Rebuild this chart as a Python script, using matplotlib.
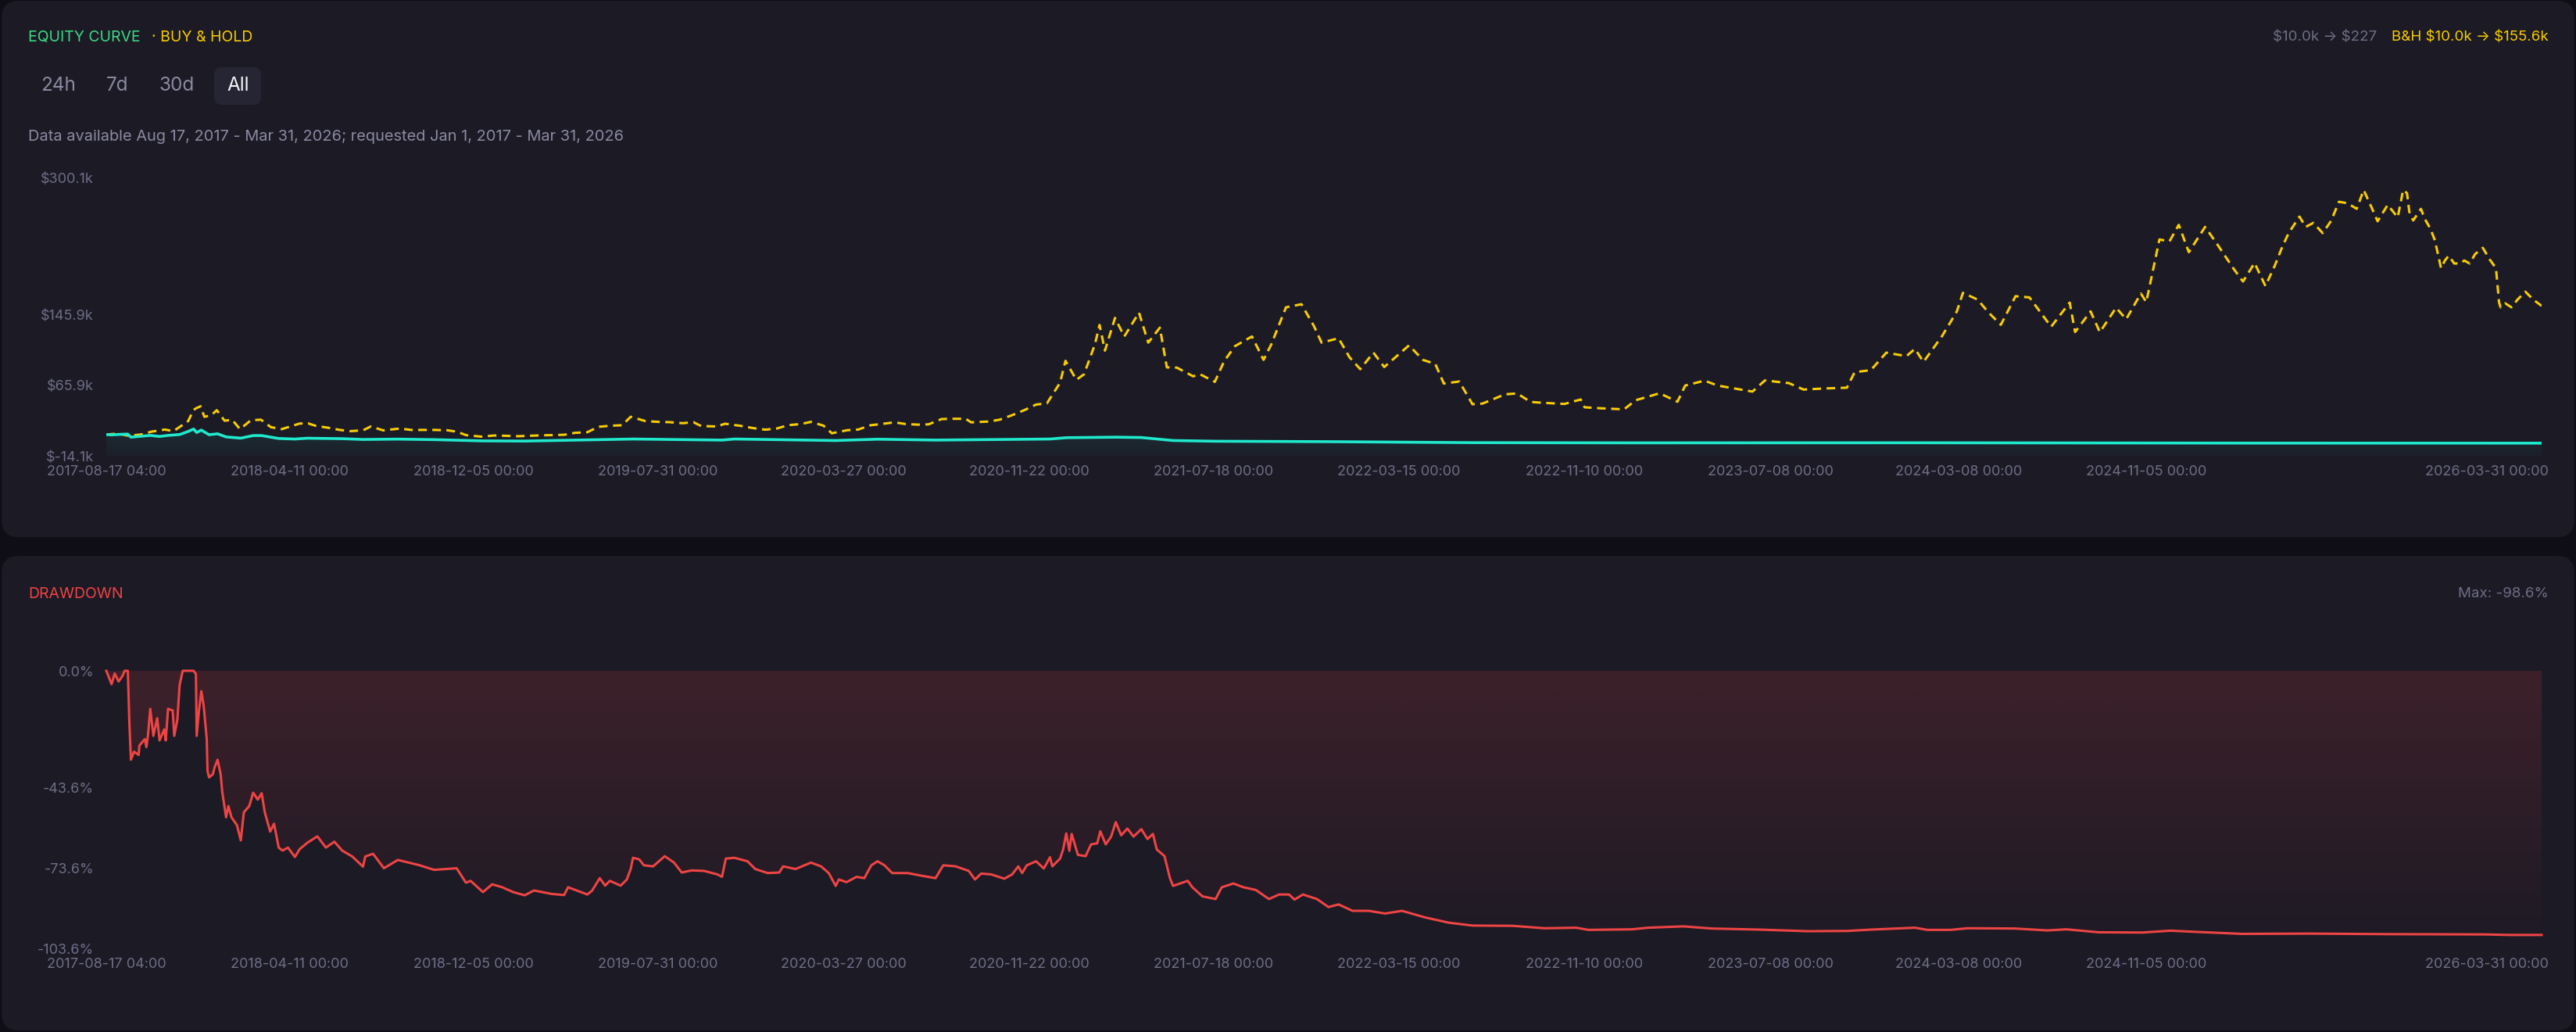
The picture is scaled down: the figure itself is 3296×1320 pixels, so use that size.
import matplotlib

matplotlib.use("Agg")
import matplotlib.colors as mcolors
import matplotlib.dates as mdates
import matplotlib.pyplot as plt
import numpy as np
import pandas as pd
from matplotlib.patches import FancyBboxPatch
from matplotlib.transforms import ScaledTranslation

W, H, DPI = 3296, 1320, 100

# ---- data --------------------------------------------------------------
# buy & hold equity, $k
bh_dates = [
    "2017-08-17 04:00", "2017-09-01", "2017-09-15", "2017-10-01", "2017-10-15", "2017-11-01",
    "2017-11-12", "2017-11-20", "2017-12-01", "2017-12-08", "2017-12-12", "2017-12-17",
    "2017-12-22", "2017-12-31", "2018-01-07", "2018-01-17", "2018-01-27", "2018-02-06",
    "2018-02-20", "2018-03-05", "2018-03-18", "2018-04-01", "2018-04-24", "2018-05-05",
    "2018-05-15", "2018-06-01", "2018-06-15", "2018-06-28", "2018-07-15", "2018-07-25",
    "2018-08-10", "2018-09-01", "2018-09-15", "2018-10-15", "2018-11-01", "2018-11-14",
    "2018-11-25", "2018-12-15", "2019-01-01", "2019-02-01", "2019-03-01", "2019-04-01",
    "2019-04-15", "2019-05-01", "2019-05-15", "2019-06-01", "2019-06-15", "2019-06-26",
    "2019-07-15", "2019-08-01", "2019-08-15", "2019-09-01", "2019-09-15", "2019-09-25",
    "2019-10-15", "2019-10-26", "2019-11-15", "2019-12-01", "2019-12-17", "2020-01-01",
    "2020-01-15", "2020-02-01", "2020-02-14", "2020-03-01", "2020-03-12", "2020-04-01",
    "2020-04-15", "2020-05-01", "2020-05-15", "2020-06-01", "2020-06-15", "2020-07-01",
    "2020-07-15", "2020-08-01", "2020-08-15", "2020-09-01", "2020-09-08", "2020-10-01",
    "2020-10-15", "2020-11-01", "2020-11-15", "2020-12-01", "2020-12-15", "2021-01-01",
    "2021-01-08", "2021-01-22", "2021-02-01", "2021-02-15", "2021-02-21", "2021-02-28",
    "2021-03-13", "2021-03-25", "2021-04-13", "2021-04-25", "2021-05-10", "2021-05-19",
    "2021-06-01", "2021-06-22", "2021-07-01", "2021-07-20", "2021-08-01", "2021-08-15",
    "2021-09-06", "2021-09-21", "2021-10-01", "2021-10-20", "2021-11-09", "2021-11-25",
    "2021-12-05", "2021-12-27", "2022-01-10", "2022-01-24", "2022-02-10", "2022-02-24",
    "2022-03-28", "2022-04-15", "2022-05-01", "2022-05-12", "2022-06-01", "2022-06-18",
    "2022-07-01", "2022-07-30", "2022-08-15", "2022-09-01", "2022-09-15", "2022-10-15",
    "2022-11-05", "2022-11-10", "2022-12-01", "2022-12-31", "2023-01-15", "2023-02-15",
    "2023-03-10", "2023-03-20", "2023-04-14", "2023-05-01", "2023-06-15", "2023-07-01",
    "2023-08-01", "2023-08-20", "2023-09-15", "2023-10-15", "2023-10-25", "2023-11-15",
    "2023-12-05", "2023-12-31", "2024-01-11", "2024-01-22", "2024-02-15", "2024-03-05",
    "2024-03-13", "2024-04-01", "2024-04-15", "2024-05-01", "2024-05-20", "2024-06-07",
    "2024-07-05", "2024-07-29", "2024-08-05", "2024-08-25", "2024-09-06", "2024-09-27",
    "2024-10-10", "2024-10-29", "2024-11-05", "2024-11-22", "2024-12-05", "2024-12-17",
    "2024-12-30", "2025-01-20", "2025-02-03", "2025-02-26", "2025-03-10", "2025-03-25",
    "2025-04-08", "2025-04-20", "2025-04-30", "2025-05-08", "2025-05-22", "2025-05-30",
    "2025-06-09", "2025-06-21", "2025-07-02", "2025-07-12", "2025-07-23", "2025-08-04",
    "2025-08-13", "2025-08-24", "2025-08-31", "2025-09-13", "2025-09-26", "2025-10-03",
    "2025-10-08", "2025-10-11", "2025-10-16", "2025-10-26", "2025-10-31", "2025-11-07",
    "2025-11-13", "2025-11-21", "2025-11-26", "2025-12-01", "2025-12-08", "2025-12-16",
    "2025-12-21", "2025-12-28", "2026-01-04", "2026-01-14", "2026-01-23", "2026-01-31",
    "2026-02-04", "2026-02-06", "2026-02-12", "2026-02-20", "2026-02-28", "2026-03-10",
    "2026-03-20", "2026-03-31",
]
bh_values = [
    10.0, 11.0, 8.6, 10.0, 13.3, 15.6,
    13.8, 18.6, 25.2, 38.0, 40.0, 42.0,
    30.0, 32.0, 37.5, 25.7, 26.5, 16.1,
    26.1, 26.8, 18.3, 16.1, 22.4, 22.6,
    19.8, 17.5, 15.2, 13.8, 14.7, 19.1,
    14.7, 16.8, 15.2, 15.2, 14.8, 13.1,
    9.3, 7.6, 8.9, 8.1, 9.0, 9.7,
    11.9, 12.6, 18.7, 20.0, 20.5, 30.1,
    25.2, 24.3, 24.0, 22.8, 24.0, 19.6,
    19.1, 22.2, 19.8, 17.3, 15.5, 16.8,
    20.5, 21.9, 24.3, 20.1, 11.4, 14.9,
    15.6, 20.5, 21.9, 23.8, 21.9, 21.2,
    21.5, 27.5, 27.8, 27.8, 23.8, 24.7,
    26.8, 32.2, 37.3, 43.9, 45.3, 68.6,
    93.4, 71.9, 78.2, 112.0, 134.0, 105.0,
    142.0, 121.0, 148.0, 114.0, 131.0, 86.0,
    85.7, 75.9, 78.2, 69.6, 92.9, 110.0,
    121.0, 94.5, 112.0, 154.0, 157.5, 133.0,
    114.0, 119.0, 97.6, 84.0, 102.7, 86.4,
    110.9, 94.5, 89.9, 67.7, 70.0, 44.3,
    45.0, 55.5, 56.5, 46.9, 46.0, 44.6,
    49.7, 40.8, 39.7, 38.5, 48.8, 56.7,
    47.1, 65.4, 71.0, 65.4, 58.6, 71.2,
    68.2, 60.9, 62.1, 63.0, 80.5, 82.9,
    102.7, 98.7, 107.0, 92.2, 121.4, 149.0,
    170.4, 162.7, 148.2, 134.2, 166.6, 165.2,
    132.0, 159.4, 126.0, 149.4, 125.8, 153.6,
    140.5, 169.7, 159.9, 230.8, 228.7, 247.4,
    216.4, 245.0, 227.6, 197.5, 183.2, 204.2,
    178.1, 200.9, 223.0, 238.0, 256.7, 245.0,
    249.6, 238.0, 252.0, 273.5, 271.8, 265.5,
    286.8, 265.5, 251.4, 270.0, 255.8, 286.8,
    283.3, 262.0, 252.3, 265.5, 254.0, 243.4,
    230.0, 198.3, 207.0, 212.5, 203.6, 203.6,
    207.0, 203.6, 214.2, 221.3, 208.0, 198.3,
    159.4, 154.0, 158.5, 154.0, 162.9, 171.7,
    162.9, 155.6,
]

# strategy equity, $k
eq_dates = [
    "2017-08-17 04:00", "2017-08-24", "2017-09-02", "2017-09-14", "2017-09-18", "2017-10-13",
    "2017-10-25", "2017-11-05", "2017-11-20", "2017-11-24", "2017-12-01", "2017-12-08",
    "2017-12-12", "2017-12-18", "2017-12-28", "2018-01-08", "2018-01-19", "2018-02-07",
    "2018-02-23", "2018-03-06", "2018-03-28", "2018-04-18", "2018-05-04", "2018-06-18",
    "2018-07-15", "2018-08-29", "2018-10-15", "2018-12-17", "2019-02-09", "2019-06-29",
    "2019-10-22", "2019-11-07", "2020-03-17", "2020-05-10", "2020-07-24", "2020-12-19",
    "2021-01-09", "2021-03-14", "2021-04-16", "2021-05-27", "2021-07-21", "2021-12-14",
    "2022-06-18", "2023-01-10", "2024-01-11", "2025-03-09", "2026-03-31",
]
eq_values = [
    10.0, 9.6, 10.1, 10.5, 7.0, 9.0,
    7.8, 9.0, 10.0, 11.2, 13.5, 16.2,
    12.3, 15.0, 9.8, 10.8, 7.3, 5.9,
    8.8, 8.8, 5.5, 4.9, 5.8, 5.3,
    4.4, 4.8, 4.2, 2.8, 2.6, 4.9,
    3.7, 4.9, 3.2, 4.7, 3.7, 4.9,
    6.4, 7.0, 6.6, 3.2, 2.4, 1.9,
    0.8, 0.57, 0.66, 0.29, 0.227,
]

# strategy drawdown, %
dd_dates = [
    "2017-08-17 04:00", "2017-08-24", "2017-08-28", "2017-09-02", "2017-09-07", "2017-09-10",
    "2017-09-14", "2017-09-16", "2017-09-18", "2017-09-22", "2017-09-28", "2017-09-29",
    "2017-10-06", "2017-10-08", "2017-10-10", "2017-10-13", "2017-10-17", "2017-10-22",
    "2017-10-25", "2017-10-31", "2017-11-02", "2017-11-05", "2017-11-11", "2017-11-13",
    "2017-11-17", "2017-11-20", "2017-11-24", "2017-12-08", "2017-12-11", "2017-12-12",
    "2017-12-15", "2017-12-18", "2017-12-21", "2017-12-25", "2017-12-26", "2017-12-28",
    "2018-01-02", "2018-01-04", "2018-01-08", "2018-01-12", "2018-01-14", "2018-01-19",
    "2018-01-22", "2018-01-26", "2018-02-02", "2018-02-07", "2018-02-11", "2018-02-18",
    "2018-02-23", "2018-03-01", "2018-03-06", "2018-03-10", "2018-03-17", "2018-03-22",
    "2018-03-28", "2018-04-02", "2018-04-09", "2018-04-18", "2018-04-24", "2018-05-04",
    "2018-05-17", "2018-05-28", "2018-06-08", "2018-06-18", "2018-07-01", "2018-07-15",
    "2018-07-18", "2018-07-28", "2018-08-11", "2018-08-29", "2018-09-25", "2018-10-15",
    "2018-11-13", "2018-11-25", "2018-12-01", "2018-12-17", "2018-12-29", "2019-01-11",
    "2019-01-25", "2019-02-09", "2019-02-21", "2019-03-16", "2019-04-01", "2019-04-06",
    "2019-04-18", "2019-05-01", "2019-05-07", "2019-05-17", "2019-05-24", "2019-05-30",
    "2019-06-13", "2019-06-21", "2019-06-26", "2019-06-29", "2019-07-07", "2019-07-13",
    "2019-07-25", "2019-08-09", "2019-08-21", "2019-08-31", "2019-09-13", "2019-09-29",
    "2019-10-16", "2019-10-22", "2019-10-27", "2019-11-07", "2019-11-24", "2019-12-04",
    "2019-12-20", "2020-01-04", "2020-01-09", "2020-01-25", "2020-02-14", "2020-02-27",
    "2020-03-08", "2020-03-17", "2020-03-21", "2020-03-31", "2020-04-13", "2020-04-23",
    "2020-05-02", "2020-05-10", "2020-05-19", "2020-05-29", "2020-06-18", "2020-07-08",
    "2020-07-24", "2020-08-03", "2020-08-19", "2020-09-05", "2020-09-13", "2020-09-21",
    "2020-10-04", "2020-10-21", "2020-10-31", "2020-11-08", "2020-11-13", "2020-11-19",
    "2020-12-01", "2020-12-11", "2020-12-19", "2020-12-22", "2021-01-01", "2021-01-05",
    "2021-01-09", "2021-01-13", "2021-01-16", "2021-01-24", "2021-02-03", "2021-02-10",
    "2021-02-18", "2021-02-22", "2021-03-01", "2021-03-08", "2021-03-14", "2021-03-21",
    "2021-03-29", "2021-04-06", "2021-04-16", "2021-04-24", "2021-05-01", "2021-05-06",
    "2021-05-16", "2021-05-23", "2021-05-27", "2021-06-15", "2021-06-21", "2021-07-04",
    "2021-07-21", "2021-07-29", "2021-08-13", "2021-08-26", "2021-09-11", "2021-09-28",
    "2021-10-11", "2021-10-24", "2021-10-31", "2021-11-11", "2021-11-29", "2021-12-14",
    "2021-12-27", "2022-01-14", "2022-02-04", "2022-02-25", "2022-03-19", "2022-04-17",
    "2022-05-18", "2022-06-18", "2022-08-09", "2022-09-19", "2022-10-30", "2022-11-15",
    "2023-01-10", "2023-01-31", "2023-03-18", "2023-04-23", "2023-06-24", "2023-08-25",
    "2023-10-16", "2023-11-15", "2024-01-11", "2024-01-27", "2024-02-26", "2024-03-19",
    "2024-05-19", "2024-06-30", "2024-07-25", "2024-09-04", "2024-10-31", "2024-12-06",
    "2025-01-12", "2025-03-09", "2025-06-05", "2025-09-16", "2026-01-17", "2026-02-17",
    "2026-03-31",
]
dd_values = [
    0.0, -5.0, -1.0, -4.0, -2.0, 0.0,
    0.0, -19.6, -33.2, -30.2, -31.4, -27.9,
    -25.5, -28.5, -24.3, -14.2, -24.3, -17.7,
    -26.0, -21.9, -26.0, -14.2, -14.8, -24.3,
    -18.3, -5.2, 0.0, 0.0, -1.2, -24.3,
    -14.8, -7.6, -13.0, -25.5, -37.4, -39.8,
    -38.6, -36.2, -33.2, -38.6, -45.1, -54.7,
    -50.5, -54.7, -57.6, -63.3, -52.8, -50.5,
    -45.5, -48.1, -45.7, -52.8, -60.0, -57.1,
    -66.0, -67.1, -66.0, -69.5, -66.6, -64.2,
    -61.8, -66.0, -63.8, -67.1, -69.3, -73.1,
    -69.3, -68.3, -73.7, -70.6, -72.5, -74.3,
    -73.7, -79.1, -78.4, -82.6, -79.7, -80.8,
    -82.6, -83.8, -82.0, -83.3, -83.7, -80.8,
    -82.1, -83.5, -82.1, -77.4, -80.2, -78.4,
    -80.2, -77.9, -74.0, -69.8, -70.4, -72.6,
    -73.0, -69.2, -71.6, -75.3, -74.5, -74.7,
    -76.0, -76.9, -70.1, -69.8, -71.1, -74.0,
    -75.5, -75.3, -73.0, -74.0, -71.6, -73.0,
    -75.5, -80.3, -77.9, -78.9, -76.9, -77.4,
    -72.6, -71.1, -72.6, -75.5, -75.5, -76.6,
    -77.4, -72.6, -73.0, -74.7, -77.9, -75.7,
    -76.0, -77.6, -76.0, -73.0, -75.5, -72.6,
    -71.1, -73.8, -69.6, -73.0, -70.1, -66.7,
    -60.7, -67.2, -60.9, -68.7, -69.2, -64.8,
    -64.4, -59.9, -64.8, -61.9, -56.5, -61.4,
    -58.9, -61.9, -59.1, -62.8, -60.9, -66.7,
    -69.2, -77.4, -80.3, -78.4, -80.8, -84.2,
    -85.2, -80.8, -79.4, -80.8, -81.8, -85.2,
    -83.5, -83.5, -85.4, -83.5, -85.2, -88.2,
    -87.2, -89.6, -89.6, -90.6, -89.6, -92.0,
    -94.0, -95.1, -95.2, -96.1, -95.9, -96.7,
    -96.5, -95.9, -95.4, -96.2, -96.6, -97.2,
    -97.1, -96.6, -95.9, -96.7, -96.7, -96.1,
    -96.2, -96.9, -96.5, -97.6, -97.7, -97.0,
    -97.5, -98.2, -98.1, -98.3, -98.4, -98.6,
    -98.6,
]

x_tick_dates = [
    "2017-08-17 04:00", "2018-04-11", "2018-12-05", "2019-07-31", "2020-03-27", "2020-11-22",
    "2021-07-18", "2022-03-15", "2022-11-10", "2023-07-08", "2024-03-08", "2024-11-05",
    "2026-03-31",
]
eq_yticks = [-14.1, 65.9, 145.9, 300.1]
dd_yticks = [0.0, -43.6, -73.6, -103.6]
range_buttons = ["24h", "7d", "30d", "All"]

title_equity = "EQUITY CURVE"
title_bh = "· BUY & HOLD"
title_dd = "DRAWDOWN"
note = "Data available Aug 17, 2017 - Mar 31, 2026; requested Jan 1, 2017 - Mar 31, 2026"
summary_strategy = "$10.0k → $227"
summary_bh = "B&H $10.0k → $155.6k"
summary_dd = "Max: -98.6%"

# ---- style -------------------------------------------------------------
BG = "#0f0e17"
CARD = "#1b1a25"
BTN = "#262533"
MUTED = "#6f6e86"
TEXT_DIM = "#8b8aa1"
GREEN = "#3ddc84"
YELLOW = "#f8cc00"
CYAN = "#1fe9cd"
RED = "#ef4444"
TICK_SIZE = 13

plt.rcParams["font.family"] = ["Inter", "DejaVu Sans"]


def to_dates(values):
    return pd.to_datetime(values, format="ISO8601")


fig = plt.figure(figsize=(W / DPI, H / DPI), dpi=DPI)
fig.patch.set_facecolor(BG)

# pixel-space canvas for cards and header text
bg = fig.add_axes([0, 0, 1, 1], zorder=0)
bg.set_xlim(0, W)
bg.set_ylim(H, 0)
bg.axis("off")

for top, bottom in [(1, 687), (711, 1318)]:
    bg.add_patch(FancyBboxPatch((2, top), W - 4, bottom - top,
                                boxstyle="round,pad=0,rounding_size=22",
                                facecolor=CARD, edgecolor="none"))


def label(x, y, s, color, size, ha="left"):
    bg.text(x, y, s, color=color, fontsize=size, va="center", ha=ha, parse_math=False)


label(36, 48, title_equity, GREEN, 14)
label(194, 48, title_bh, YELLOW, 14)
label(3041, 48, summary_strategy, MUTED, 13.5, ha="right")
label(3261, 48, summary_bh, YELLOW, 13.5, ha="right")

btn_x = [52, 136, 204, 290]
for name, x in zip(range_buttons, btn_x):
    active = name == "All"
    if active:
        bg.add_patch(FancyBboxPatch((x - 16, 86), 60, 48,
                                    boxstyle="round,pad=0,rounding_size=10",
                                    facecolor=BTN, edgecolor="none"))
    label(x, 110, name, "#f2f2f7" if active else TEXT_DIM, 17.5)

label(36, 175, note, TEXT_DIM, 14.4)
label(36, 760, title_dd, RED, 14)
label(3261, 760, summary_dd, MUTED, 13.5, ha="right")


def px_axes(left, top, right, bottom):
    return fig.add_axes([left / W, 1 - bottom / H, (right - left) / W, (bottom - top) / H],
                        zorder=1)


def gradient_fill(ax, x, y, base, color, a_top, a_bottom, y_low, y_high):
    poly = ax.fill_between(x, y, base, facecolor="none", edgecolor="none")
    rgba = np.zeros((256, 1, 4))
    rgba[..., :3] = mcolors.to_rgb(color)
    rgba[..., 3] = np.linspace(a_top, a_bottom, 256)[:, None]
    xn = mdates.date2num(x)
    im = ax.imshow(rgba, extent=[xn[0], xn[-1], y_low, y_high], aspect="auto",
                   origin="upper", zorder=1)
    im.set_clip_path(poly.get_paths()[0], transform=ax.transData)


def style_axes(ax):
    ax.set_facecolor("none")
    for s in ax.spines.values():
        s.set_visible(False)
    ax.tick_params(length=0, labelsize=TICK_SIZE, labelcolor=MUTED)
    ax.tick_params(axis="y", pad=11.5)
    ax.tick_params(axis="x", pad=8.5)
    ticks = to_dates(x_tick_dates)
    ax.set_xticks(ticks)
    ax.set_xticklabels([t.strftime("%Y-%m-%d %H:%M") for t in ticks])
    last = ax.get_xticklabels()[-1]
    last.set_ha("right")
    last.set_transform(last.get_transform() + ScaledTranslation(9 / DPI, 0, fig.dpi_scale_trans))
    ax.set_xlim(ticks[0], ticks[-1])


bh_x = to_dates(bh_dates)
eq_x = to_dates(eq_dates)
dd_x = to_dates(dd_dates)

# ---- equity panel ------------------------------------------------------
ax1 = px_axes(136, 228, 3252, 583)
gradient_fill(ax1, eq_x, eq_values, eq_yticks[0], CYAN, 0.10, 0.03, eq_yticks[0], 20)
ax1.plot(bh_x, bh_values, color=YELLOW, lw=2.2, ls=(0, (3.6, 2.3)), zorder=3)
ax1.plot(eq_x, eq_values, color=CYAN, lw=2.6, zorder=4, solid_joinstyle="round")
ax1.set_yticks(eq_yticks)
ax1.set_yticklabels([f"${v:.1f}k" for v in eq_yticks])
ax1.set_ylim(eq_yticks[0], eq_yticks[-1])
style_axes(ax1)

# ---- drawdown panel ----------------------------------------------------
ax2 = px_axes(136, 858, 3252, 1213)
gradient_fill(ax2, dd_x, dd_values, 0, RED, 0.16, 0.01, dd_yticks[-1], 0)
ax2.plot(dd_x, dd_values, color=RED, lw=2.2, zorder=4, clip_on=False)
ax2.set_yticks(dd_yticks)
ax2.set_yticklabels([f"{v:.1f}%" for v in dd_yticks])
ax2.set_ylim(dd_yticks[-1], 0)
style_axes(ax2)

fig.savefig("out.png", dpi=DPI, facecolor=BG)
